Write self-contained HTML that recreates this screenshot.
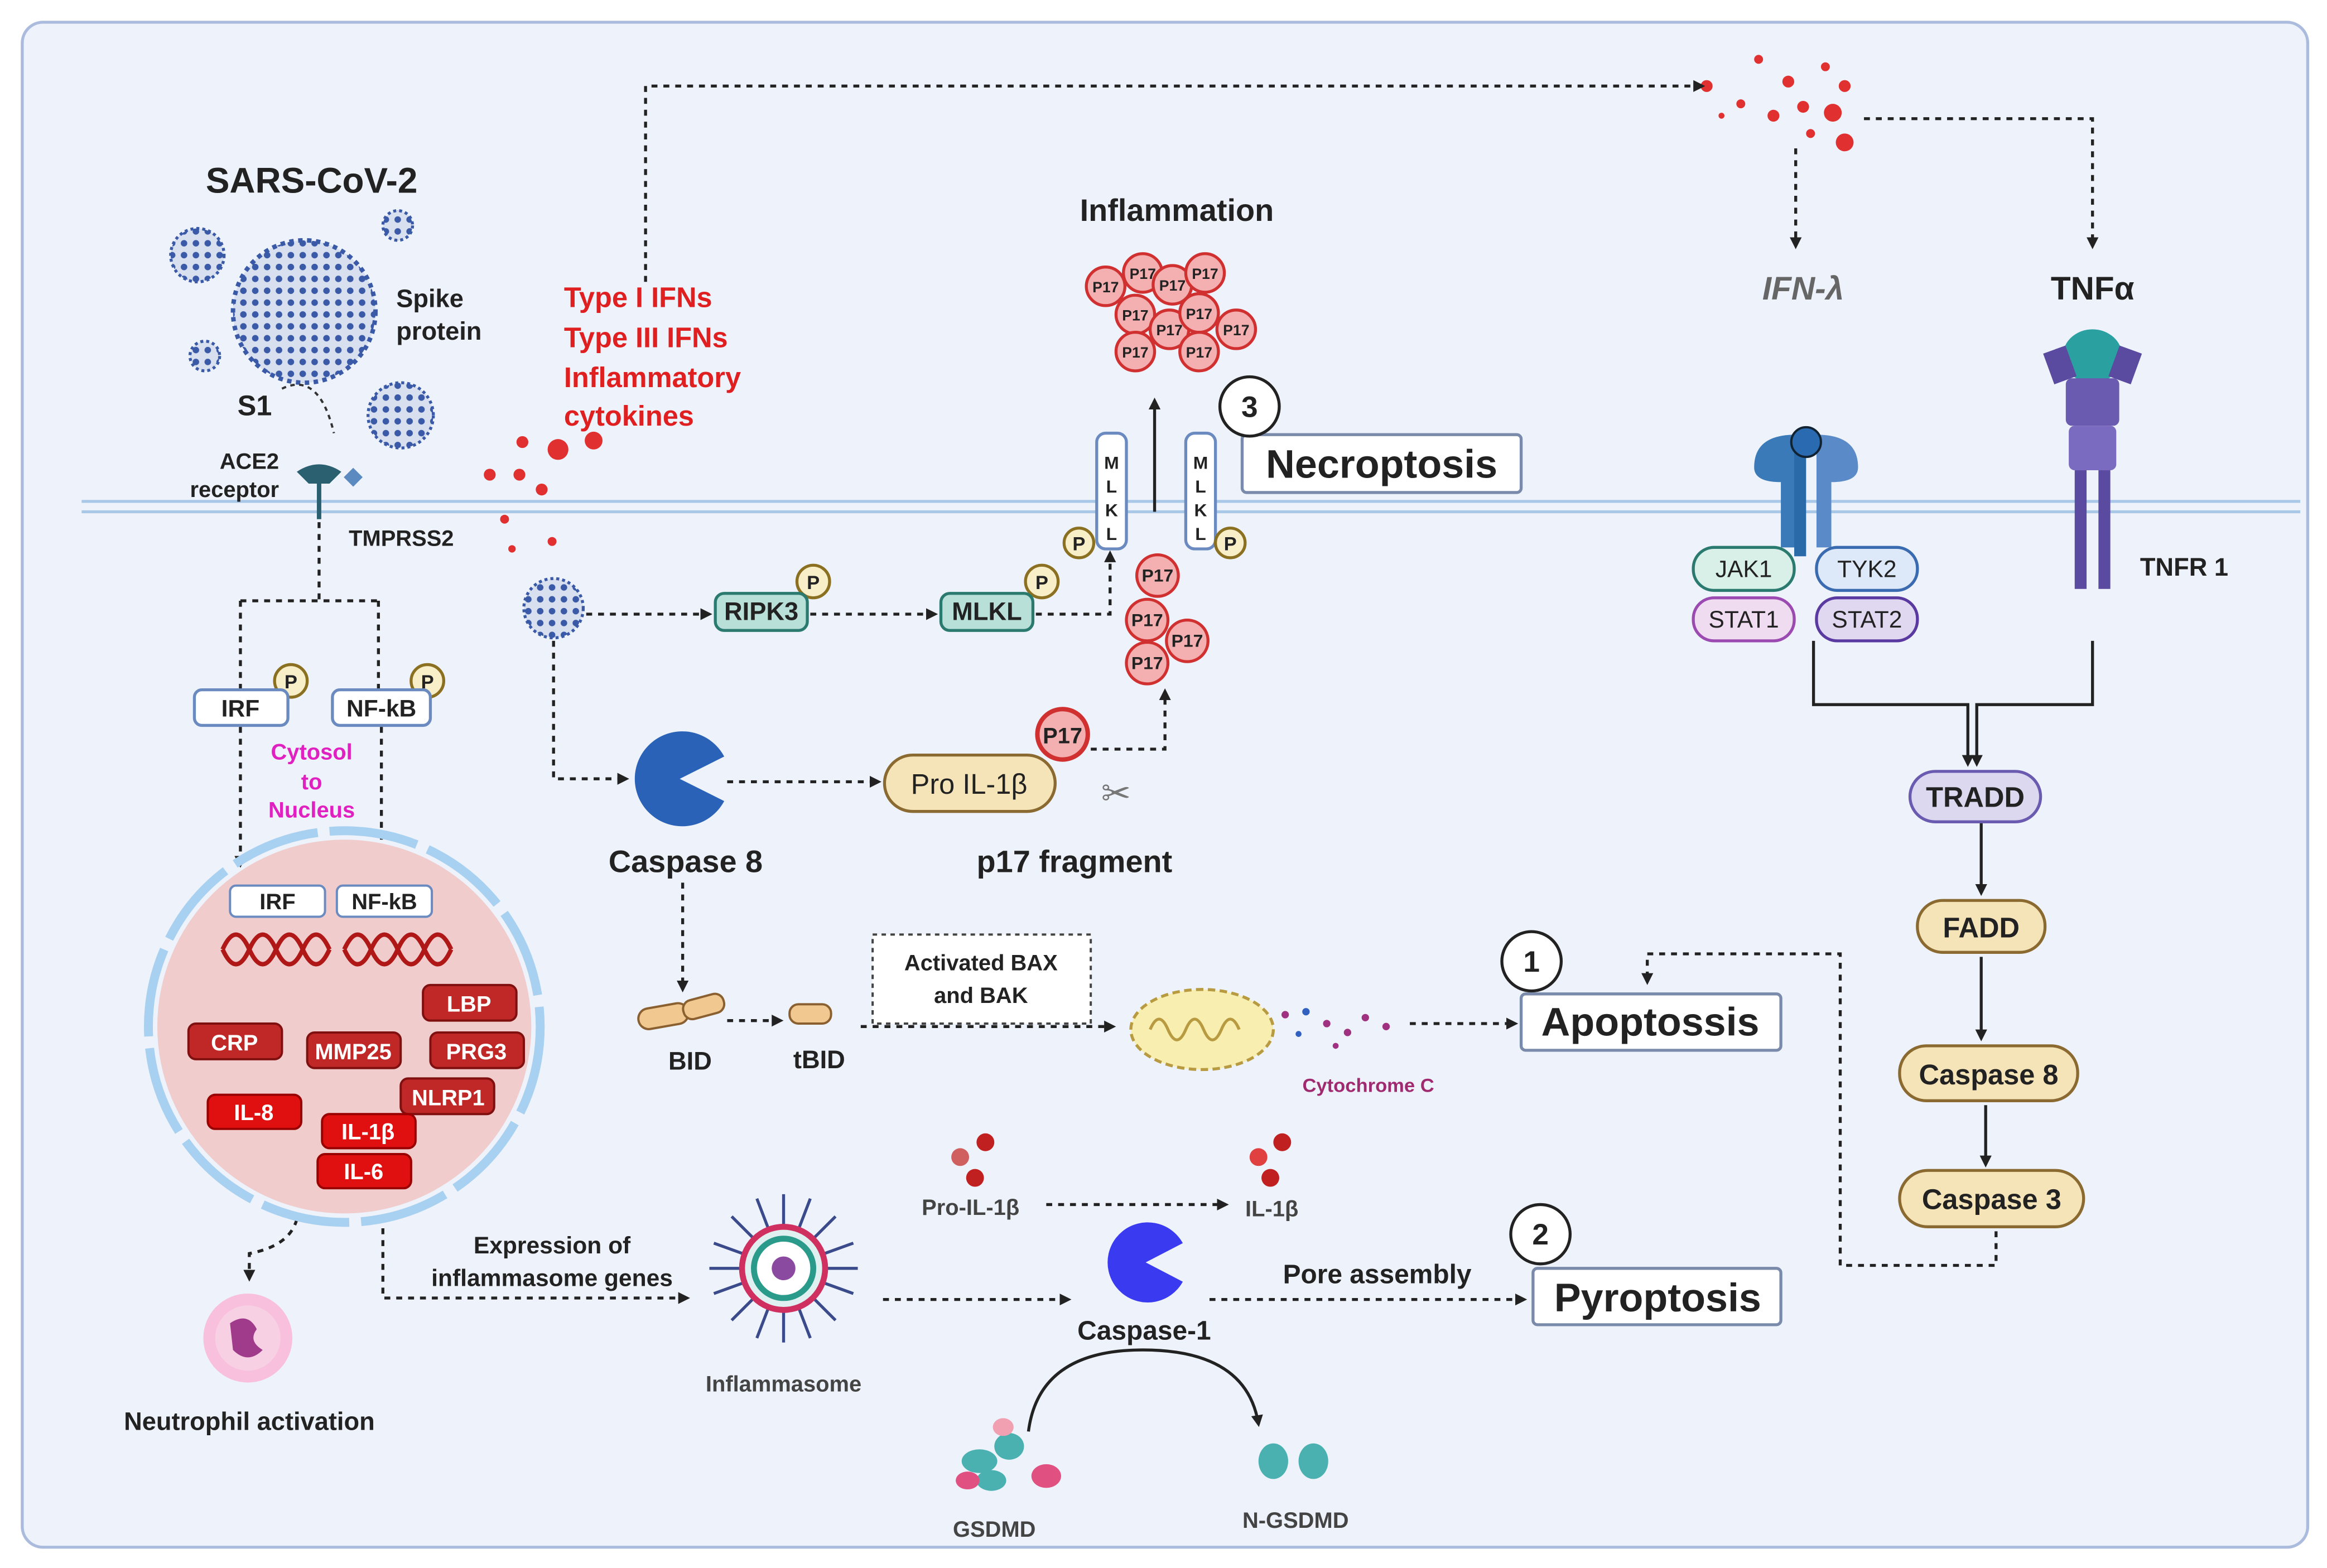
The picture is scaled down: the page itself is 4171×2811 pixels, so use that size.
<!DOCTYPE html>
<html><head><meta charset="utf-8">
<style>
html,body{margin:0;padding:0;background:#fff;}
svg{display:block;}
text{font-family:"Liberation Sans",Arial,sans-serif;}
</style></head>
<body>
<svg width="4171" height="2811" viewBox="0 0 1568 1057" preserveAspectRatio="none" xmlns="http://www.w3.org/2000/svg">
<defs>
<marker id="ah" markerWidth="8" markerHeight="8" refX="6" refY="4" orient="auto" markerUnits="userSpaceOnUse"><path d="M0,0 L8,4 L0,8 z" fill="#222"/></marker>
<pattern id="vir" width="8" height="8" patternUnits="userSpaceOnUse"><rect width="8" height="8" fill="#d8e0f0"/><circle cx="4" cy="4" r="2.2" fill="#3a5aa8"/></pattern>
</defs>
<rect x="0" y="0" width="1568" height="1057" fill="#fff"/>
<rect x="15" y="15" width="1540" height="1028" rx="14" fill="#eef3fb" stroke="#aabbdd" stroke-width="2"/>
<line x1="55" y1="338" x2="1550" y2="338" stroke="#a9c8e8" stroke-width="2"/>
<line x1="55" y1="345" x2="1550" y2="345" stroke="#a9c8e8" stroke-width="2"/>

<g font-weight="bold" fill="#222">
<text x="210" y="130" font-size="24" text-anchor="middle">SARS-CoV-2</text>
<text x="267" y="207" font-size="17">Spike</text>
<text x="267" y="229" font-size="17">protein</text>
<text x="160" y="280" font-size="19">S1</text>
<text x="168" y="316" font-size="15" text-anchor="middle">ACE2</text>
<text x="158" y="335" font-size="15" text-anchor="middle">receptor</text>
<text x="235" y="368" font-size="15">TMPRSS2</text>
</g>
<circle cx="205" cy="210" r="48" fill="url(#vir)" stroke="#3a5aa8" stroke-width="3" stroke-dasharray="3 3"/>
<circle cx="133" cy="172" r="18" fill="url(#vir)" stroke="#3a5aa8" stroke-width="2" stroke-dasharray="2 2"/>
<circle cx="268" cy="152" r="10" fill="url(#vir)" stroke="#3a5aa8" stroke-width="2" stroke-dasharray="2 2"/>
<circle cx="138" cy="240" r="10" fill="url(#vir)" stroke="#3a5aa8" stroke-width="2" stroke-dasharray="2 2"/>
<circle cx="270" cy="280" r="22" fill="url(#vir)" stroke="#3a5aa8" stroke-width="2" stroke-dasharray="2 2"/>
<circle cx="373" cy="410" r="20" fill="url(#vir)" stroke="#3a5aa8" stroke-width="2" stroke-dasharray="2 2"/>
<path d="M190,262 Q215,250 225,292" fill="none" stroke="#333" stroke-dasharray="3 3" stroke-width="1.5"/>
<path d="M200,318 q15,-10 30,0 l-8,8 h-14 z" fill="#2a6070"/>
<line x1="215" y1="325" x2="215" y2="350" stroke="#2a6070" stroke-width="3"/>
<rect x="234" y="317" width="9" height="9" fill="#5a8ac0" transform="rotate(45 238 321)"/>

<g font-weight="bold" fill="#e02020" font-size="19">
<text x="380" y="207">Type I IFNs</text>
<text x="380" y="234">Type III IFNs</text>
<text x="380" y="261">Inflammatory</text>
<text x="380" y="287">cytokines</text>
</g>
<g fill="#e03030">
<circle cx="400" cy="297" r="6"/><circle cx="376" cy="303" r="7"/><circle cx="352" cy="298" r="4"/><circle cx="330" cy="320" r="4"/><circle cx="350" cy="320" r="4"/><circle cx="365" cy="330" r="4"/><circle cx="340" cy="350" r="3"/><circle cx="372" cy="365" r="3"/><circle cx="345" cy="370" r="2.5"/>
<circle cx="1150" cy="58" r="4"/><circle cx="1185" cy="40" r="3"/><circle cx="1205" cy="55" r="4"/><circle cx="1230" cy="45" r="3"/><circle cx="1243" cy="58" r="4"/><circle cx="1173" cy="70" r="3"/><circle cx="1195" cy="78" r="4"/><circle cx="1215" cy="72" r="4"/><circle cx="1235" cy="76" r="6"/><circle cx="1243" cy="96" r="6"/><circle cx="1160" cy="78" r="2"/><circle cx="1220" cy="90" r="3"/>
</g>
<g fill="none" stroke="#222" stroke-width="2" stroke-dasharray="4 4">
<path d="M435,190 V58 H1147" marker-end="url(#ah)"/>
<path d="M1256,80 H1410 V166" marker-end="url(#ah)"/>
<path d="M1210,100 V166" marker-end="url(#ah)"/>
</g>
<text x="1215" y="202" font-size="22" font-style="italic" font-weight="bold" fill="#666" text-anchor="middle">IFN-λ</text>
<text x="1410" y="202" font-size="22" font-weight="bold" fill="#222" text-anchor="middle">TNFα</text>
<path d="M1182,315 q0,-22 28,-22 v76 h-10 v-44 q-18,0 -18,-10z" fill="#3a7ab8"/>
<path d="M1252,315 q0,-22 -28,-22 v76 h10 v-44 q18,0 18,-10z" fill="#5a8ac8"/>
<rect x="1209" y="300" width="8" height="75" fill="#2a6aa8"/>
<circle cx="1217" cy="298" r="10" fill="#2a6ab0" stroke="#123" stroke-width="1.5"/>
<g font-size="16" text-anchor="middle" fill="#222">
<rect x="1141" y="369" width="68" height="29" rx="14" fill="#d8f0e8" stroke="#2a7a70" stroke-width="2"/><text x="1175" y="389">JAK1</text>
<rect x="1224" y="369" width="68" height="29" rx="14" fill="#dde8f8" stroke="#3a6ab0" stroke-width="2"/><text x="1258" y="389">TYK2</text>
<rect x="1141" y="403" width="68" height="29" rx="14" fill="#f0dcf0" stroke="#9a4ab0" stroke-width="2"/><text x="1175" y="423">STAT1</text>
<rect x="1224" y="403" width="68" height="29" rx="14" fill="#e0d8f0" stroke="#5a3aa0" stroke-width="2"/><text x="1258" y="423">STAT2</text>
</g>
<ellipse cx="1410" cy="240" rx="20" ry="18" fill="#2aa0a0"/>
<rect x="1380" y="235" width="16" height="22" fill="#5a4aa0" transform="rotate(-20 1388 246)"/>
<rect x="1424" y="235" width="16" height="22" fill="#5a4aa0" transform="rotate(20 1432 246)"/>
<rect x="1392" y="255" width="36" height="32" rx="4" fill="#6a5ab0"/>
<rect x="1394" y="287" width="32" height="30" rx="4" fill="#7a6ac0"/>
<rect x="1398" y="317" width="8" height="80" fill="#5a4aa0"/><rect x="1414" y="317" width="8" height="80" fill="#5a4aa0"/>
<text x="1442" y="388" font-size="17" font-weight="bold" fill="#222">TNFR 1</text>
<g fill="none" stroke="#222" stroke-width="2">
<path d="M1222,432 V475 H1326 V515" marker-end="url(#ah)"/>
<path d="M1410,432 V475 H1332 V515" marker-end="url(#ah)"/>
<path d="M1335,555 V602" marker-end="url(#ah)"/>
<path d="M1335,645 V700" marker-end="url(#ah)"/>
<path d="M1338,745 V785" marker-end="url(#ah)"/>
</g>
<g font-size="19" font-weight="bold" text-anchor="middle" fill="#222">
<rect x="1287" y="520" width="88" height="34" rx="17" fill="#dcd8f0" stroke="#6a5ab0" stroke-width="2"/><text x="1331" y="544">TRADD</text>
<rect x="1292" y="607" width="86" height="35" rx="17" fill="#f5e4b8" stroke="#8a6a30" stroke-width="2"/><text x="1335" y="632">FADD</text>
<rect x="1280" y="705" width="120" height="37" rx="18" fill="#f5e4b8" stroke="#8a6a30" stroke-width="2"/><text x="1340" y="731">Caspase 8</text>
<rect x="1280" y="789" width="124" height="38" rx="19" fill="#f5e4b8" stroke="#8a6a30" stroke-width="2"/><text x="1342" y="815">Caspase 3</text>
</g>
<path d="M1345,830 V853 H1240 V643 H1110 V662" fill="none" stroke="#222" stroke-width="2" stroke-dasharray="4 4" marker-end="url(#ah)"/>

<g fill="#fff" stroke="#7a8aaa" stroke-width="2">
<rect x="1025" y="670" width="175" height="38" rx="3"/>
<rect x="1033" y="855" width="167" height="38" rx="3"/>
<rect x="837" y="293" width="188" height="39" rx="3"/>
</g>
<g font-size="27" font-weight="bold" fill="#222" text-anchor="middle">
<text x="1112" y="698">Apoptossis</text>
<text x="1117" y="884">Pyroptosis</text>
<text x="931" y="322">Necroptosis</text>
</g>
<g fill="#fff" stroke="#222" stroke-width="2"><circle cx="1032" cy="648" r="20"/><circle cx="1038" cy="832" r="20"/><circle cx="842" cy="274" r="20"/></g>
<g font-size="20" font-weight="bold" text-anchor="middle" fill="#222"><text x="1032" y="655">1</text><text x="1038" y="839">2</text><text x="842" y="281">3</text></g>

<text x="793" y="149" font-size="21" font-weight="bold" fill="#222" text-anchor="middle">Inflammation</text>
<g fill="#f4b0b0" stroke="#d03030" stroke-width="2">
<circle cx="745" cy="193" r="13"/><circle cx="770" cy="184" r="13"/><circle cx="790" cy="192" r="13"/><circle cx="812" cy="184" r="13"/>
<circle cx="765" cy="212" r="13"/><circle cx="788" cy="222" r="13"/><circle cx="808" cy="211" r="13"/><circle cx="833" cy="222" r="13"/>
<circle cx="765" cy="237" r="13"/><circle cx="808" cy="237" r="13"/>
<circle cx="780" cy="388" r="14"/><circle cx="773" cy="418" r="14"/><circle cx="800" cy="432" r="14"/><circle cx="773" cy="447" r="14"/>
</g>
<g font-size="10" font-weight="bold" fill="#222" text-anchor="middle">
<text x="745" y="197">P17</text><text x="770" y="188">P17</text><text x="790" y="196">P17</text><text x="812" y="188">P17</text>
<text x="765" y="216">P17</text><text x="788" y="226">P17</text><text x="808" y="215">P17</text><text x="833" y="226">P17</text>
<text x="765" y="241">P17</text><text x="808" y="241">P17</text>
<text x="780" y="392" font-size="12">P17</text><text x="773" y="422" font-size="12">P17</text><text x="800" y="436" font-size="12">P17</text><text x="773" y="451" font-size="12">P17</text>
</g>
<line x1="778" y1="345" x2="778" y2="270" stroke="#222" stroke-width="2" marker-end="url(#ah)"/>
<g fill="#fff" stroke="#6a8ac0" stroke-width="2"><rect x="739" y="292" width="20" height="78" rx="6"/><rect x="799" y="292" width="20" height="78" rx="6"/></g>
<g font-size="12" font-weight="bold" text-anchor="middle" fill="#222">
<text x="749" y="316">M</text><text x="749" y="332">L</text><text x="749" y="348">K</text><text x="749" y="364">L</text>
<text x="809" y="316">M</text><text x="809" y="332">L</text><text x="809" y="348">K</text><text x="809" y="364">L</text>
</g>
<g fill="#f8eec8" stroke="#8a7020" stroke-width="2">
<circle cx="727" cy="366" r="10"/><circle cx="829" cy="366" r="10"/><circle cx="548" cy="392" r="11"/><circle cx="702" cy="392" r="11"/><circle cx="196" cy="459" r="11"/><circle cx="288" cy="459" r="11"/>
</g>
<g font-size="13" font-weight="bold" text-anchor="middle" fill="#222">
<text x="727" y="371">P</text><text x="829" y="371">P</text><text x="548" y="397">P</text><text x="702" y="397">P</text><text x="196" y="464">P</text><text x="288" y="464">P</text>
</g>
<g font-size="17" font-weight="bold" text-anchor="middle" fill="#222">
<rect x="482" y="400" width="62" height="25" rx="6" fill="#b8e0d8" stroke="#2a7a70" stroke-width="2"/><text x="513" y="418">RIPK3</text>
<rect x="634" y="400" width="62" height="25" rx="6" fill="#b8e0d8" stroke="#2a7a70" stroke-width="2"/><text x="665" y="418">MLKL</text>
</g>
<g fill="none" stroke="#222" stroke-width="2" stroke-dasharray="4 4">
<path d="M395,414 H478" marker-end="url(#ah)"/>
<path d="M546,414 H630" marker-end="url(#ah)"/>
<path d="M698,414 H748 V373" marker-end="url(#ah)"/>
<path d="M373,432 V525 H422" marker-end="url(#ah)"/>
<path d="M490,527 H592" marker-end="url(#ah)"/>
<path d="M735,505 H785 V466" marker-end="url(#ah)"/>
<path d="M460,595 V667" marker-end="url(#ah)"/>
<path d="M490,688 H526" marker-end="url(#ah)"/>
<path d="M580,692 H750" marker-end="url(#ah)"/>
<path d="M950,690 H1021" marker-end="url(#ah)"/>
<path d="M215,352 V405 M162,405 H255 M162,405 V465 M255,405 V465"/>
<path d="M162,490 V583" marker-end="url(#ah)"/>
<path d="M257,490 V583" marker-end="url(#ah)"/>
<path d="M200,822 Q195,840 168,845 V862" marker-end="url(#ah)"/>
<path d="M258,828 V875 H463" marker-end="url(#ah)"/>
<path d="M595,876 H720" marker-end="url(#ah)"/>
<path d="M815,876 H1027" marker-end="url(#ah)"/>
<path d="M705,812 H826" marker-end="url(#ah)"/>
</g>
<path d="M458,525 L488,510 A32,32 0 1,0 488,540 Z" fill="#2a62b8"/>
<text x="462" y="588" font-size="21" font-weight="bold" text-anchor="middle" fill="#222">Caspase 8</text>
<rect x="596" y="509" width="115" height="38" rx="19" fill="#f5e4b8" stroke="#8a6a30" stroke-width="2"/>
<text x="653" y="535" font-size="19" text-anchor="middle" fill="#222">Pro IL-1β</text>
<circle cx="716" cy="495" r="17" fill="#f4b0b0" stroke="#d03030" stroke-width="3"/>
<text x="716" y="501" font-size="15" font-weight="bold" text-anchor="middle" fill="#222">P17</text>
<text x="752" y="543" font-size="24" text-anchor="middle" fill="#777">✂</text>
<text x="724" y="588" font-size="21" font-weight="bold" text-anchor="middle" fill="#222">p17 fragment</text>
<g fill="#f0c890" stroke="#8a6030" stroke-width="1.5">
<rect x="430" y="678" width="34" height="14" rx="7" transform="rotate(-10 447 685)"/>
<rect x="460" y="672" width="28" height="13" rx="6" transform="rotate(-15 474 678)"/>
<rect x="532" y="677" width="28" height="13" rx="6"/>
</g>
<text x="465" y="721" font-size="17" font-weight="bold" text-anchor="middle" fill="#222">BID</text>
<text x="552" y="720" font-size="17" font-weight="bold" text-anchor="middle" fill="#222">tBID</text>
<rect x="588" y="630" width="147" height="60" fill="#fff" stroke="#444" stroke-width="1.5" stroke-dasharray="3 3"/>
<text x="661" y="654" font-size="15" font-weight="bold" text-anchor="middle" fill="#222">Activated BAX</text>
<text x="661" y="676" font-size="15" font-weight="bold" text-anchor="middle" fill="#222">and BAK</text>
<ellipse cx="810" cy="694" rx="48" ry="27" fill="#f8eeb0" stroke="#b89a40" stroke-width="2" stroke-dasharray="5 3"/>
<path d="M775,694 q6,-14 12,0 t12,0 t12,0 t12,0 t12,0" fill="none" stroke="#b89a40" stroke-width="2"/>
<g fill="#a03080"><circle cx="866" cy="684" r="2.5"/><circle cx="880" cy="682" r="2.5" fill="#3060c0"/><circle cx="894" cy="690" r="2.5"/><circle cx="908" cy="696" r="2.5"/><circle cx="920" cy="686" r="2.5"/><circle cx="934" cy="692" r="2.5"/><circle cx="875" cy="697" r="2" fill="#3060c0"/><circle cx="900" cy="705" r="2"/></g>
<text x="922" y="736" font-size="13" font-weight="bold" fill="#a02a70" text-anchor="middle">Cytochrome C</text>

<g font-size="16" font-weight="bold" text-anchor="middle" fill="#222">
<rect x="131" y="465" width="63" height="24" rx="5" fill="#fff" stroke="#6a8ac0" stroke-width="2"/><text x="162" y="483">IRF</text>
<rect x="224" y="465" width="66" height="24" rx="5" fill="#fff" stroke="#6a8ac0" stroke-width="2"/><text x="257" y="483">NF-kB</text>
</g>
<circle cx="232" cy="692" r="126" fill="#f0cccc"/>
<circle cx="232" cy="692" r="132" fill="none" stroke="#a8d0f0" stroke-width="6" stroke-dasharray="60 8"/>
<g font-size="15" font-weight="bold" text-anchor="middle" fill="#e020c0">
<text x="210" y="512">Cytosol</text><text x="210" y="532">to</text><text x="210" y="551">Nucleus</text>
</g>
<g font-size="15" font-weight="bold" text-anchor="middle" fill="#222">
<rect x="155" y="597" width="64" height="21" rx="4" fill="#fff" stroke="#6a8ac0" stroke-width="1.5"/><text x="187" y="613">IRF</text>
<rect x="227" y="597" width="64" height="21" rx="4" fill="#fff" stroke="#6a8ac0" stroke-width="1.5"/><text x="259" y="613">NF-kB</text>
</g>
<g fill="none" stroke="#b01818" stroke-width="3">
<path d="M150,640 q9,-20 18,0 t18,0 t18,0 t18,0"/><path d="M150,640 q9,20 18,0 t18,0 t18,0 t18,0"/>
<path d="M232,640 q9,-20 18,0 t18,0 t18,0 t18,0"/><path d="M232,640 q9,20 18,0 t18,0 t18,0 t18,0"/>
</g>
<g fill="#c02828" stroke="#801010" stroke-width="1.5">
<rect x="127" y="690" width="63" height="24" rx="5"/><rect x="207" y="696" width="63" height="24" rx="5"/>
<rect x="285" y="664" width="63" height="24" rx="5"/><rect x="290" y="696" width="63" height="24" rx="5"/>
<rect x="270" y="727" width="63" height="24" rx="5"/>
</g>
<g fill="#e01010" stroke="#900" stroke-width="1.5">
<rect x="140" y="738" width="63" height="23" rx="5"/><rect x="217" y="751" width="63" height="23" rx="5"/><rect x="214" y="778" width="63" height="23" rx="5"/>
</g>
<g font-size="15" font-weight="bold" text-anchor="middle" fill="#fff">
<text x="158" y="708">CRP</text><text x="238" y="714">MMP25</text><text x="316" y="682">LBP</text><text x="321" y="714">PRG3</text><text x="302" y="745">NLRP1</text>
<text x="171" y="755">IL-8</text><text x="248" y="768">IL-1β</text><text x="245" y="795">IL-6</text>
</g>
<circle cx="167" cy="902" r="30" fill="#f8c0dc"/>
<circle cx="167" cy="902" r="22" fill="#f8d0e4"/>
<path d="M155,892 q12,-8 18,4 q-6,8 4,14 q-10,10 -20,0 z" fill="#a03a8a"/>
<text x="168" y="964" font-size="17" font-weight="bold" text-anchor="middle" fill="#222">Neutrophil activation</text>
<text x="372" y="845" font-size="16" font-weight="bold" text-anchor="middle" fill="#222">Expression of</text>
<text x="372" y="867" font-size="16" font-weight="bold" text-anchor="middle" fill="#222">inflammasome genes</text>
<g stroke="#3a4a8a" stroke-width="2">
<line x1="528" y1="855" x2="528" y2="805"/><line x1="528" y1="855" x2="528" y2="905"/><line x1="528" y1="855" x2="478" y2="855"/><line x1="528" y1="855" x2="578" y2="855"/>
<line x1="528" y1="855" x2="493" y2="820"/><line x1="528" y1="855" x2="563" y2="820"/><line x1="528" y1="855" x2="493" y2="890"/><line x1="528" y1="855" x2="563" y2="890"/>
<line x1="528" y1="855" x2="510" y2="808"/><line x1="528" y1="855" x2="546" y2="808"/><line x1="528" y1="855" x2="510" y2="902"/><line x1="528" y1="855" x2="546" y2="902"/>
<line x1="528" y1="855" x2="481" y2="838"/><line x1="528" y1="855" x2="575" y2="838"/><line x1="528" y1="855" x2="481" y2="872"/><line x1="528" y1="855" x2="575" y2="872"/>
</g>
<circle cx="528" cy="855" r="28" fill="#e0f0f0" stroke="#d03060" stroke-width="4"/>
<circle cx="528" cy="855" r="20" fill="#fff" stroke="#2a9a8a" stroke-width="4"/>
<circle cx="528" cy="855" r="8" fill="#8a4aa0"/>
<text x="528" y="938" font-size="15" font-weight="bold" text-anchor="middle" fill="#444">Inflammasome</text>
<path d="M772,851 L797,838 A27,27 0 1,0 797,864 Z" fill="#3a3af0"/>
<text x="771" y="903" font-size="18" font-weight="bold" text-anchor="middle" fill="#222">Caspase-1</text>
<text x="928" y="865" font-size="18" font-weight="bold" text-anchor="middle" fill="#222">Pore assembly</text>
<g fill="#c02020"><circle cx="664" cy="770" r="6"/><circle cx="647" cy="780" r="6" fill="#d06060"/><circle cx="657" cy="794" r="6"/><circle cx="864" cy="770" r="6"/><circle cx="848" cy="780" r="6" fill="#e04040"/><circle cx="856" cy="794" r="6"/></g>
<text x="654" y="819" font-size="15" font-weight="bold" text-anchor="middle" fill="#444">Pro-IL-1β</text>
<text x="857" y="820" font-size="15" font-weight="bold" text-anchor="middle" fill="#444">IL-1β</text>
<path d="M693,965 Q700,910 770,910 Q840,910 848,960" fill="none" stroke="#222" stroke-width="2" marker-end="url(#ah)"/>
<g fill="#4ab0b0"><ellipse cx="660" cy="985" rx="12" ry="8"/><ellipse cx="680" cy="975" rx="10" ry="9"/><ellipse cx="668" cy="998" rx="10" ry="7"/><ellipse cx="858" cy="985" rx="10" ry="12"/><ellipse cx="885" cy="985" rx="10" ry="12"/></g>
<g fill="#e05080"><ellipse cx="652" cy="998" rx="8" ry="6"/><ellipse cx="705" cy="995" rx="10" ry="8"/><ellipse cx="676" cy="962" rx="7" ry="6" fill="#f0a0b0"/></g>
<text x="670" y="1036" font-size="15" font-weight="bold" text-anchor="middle" fill="#444">GSDMD</text>
<text x="873" y="1030" font-size="15" font-weight="bold" text-anchor="middle" fill="#444">N-GSDMD</text>
</svg>
</body></html>
